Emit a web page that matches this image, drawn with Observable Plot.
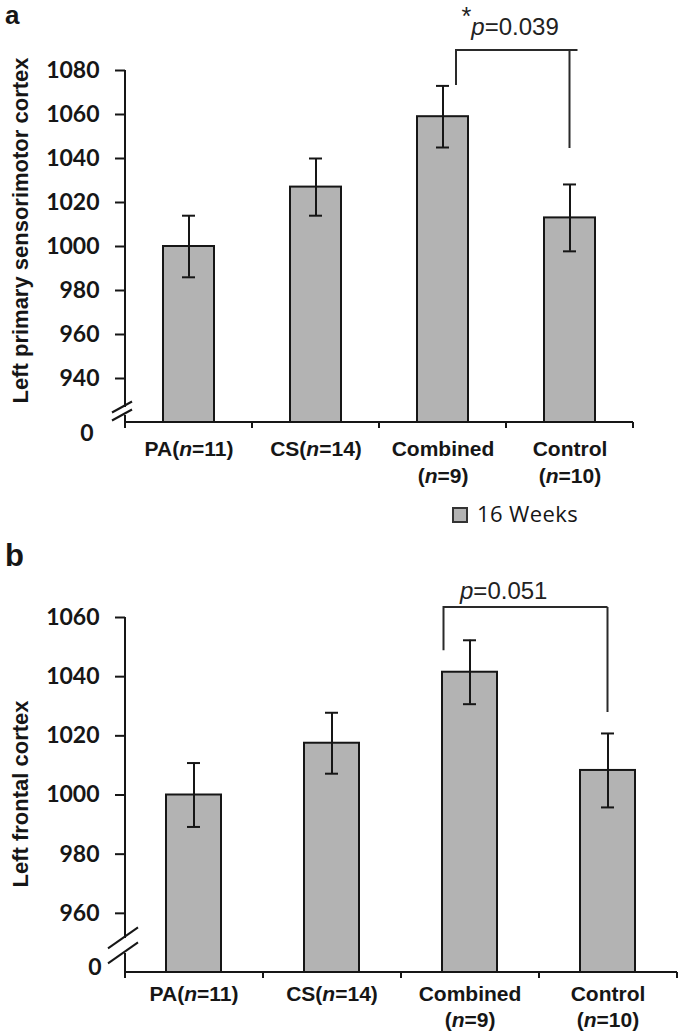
<!DOCTYPE html>
<html><head><meta charset="utf-8">
<script src="https://cdn.jsdelivr.net/npm/d3@7"></script>
<script src="https://cdn.jsdelivr.net/npm/@observablehq/plot@0.6"></script>
<style>
body{margin:0;background:#fff;}
#wrap{position:relative;width:679px;height:1034px;overflow:hidden;background:#fff;}
#wrap > svg{position:absolute;left:0;}
</style></head><body><div id="wrap"></div>
<script>
// ---- data ----
const groups = ["PA(n=11)", "CS(n=14)", "Combined\n(n=9)", "Control\n(n=10)"];
const sensorimotorMean = [1000, 1027, 1059, 1013];
const sensorimotorErr = [14, 13, 14, 15.2];
const frontalMean = [1000, 1017.5, 1041.5, 1008.3];
const frontalErr = [10.8, 10.3, 10.8, 12.5];
const sensorimotorTicks = [940, 960, 980, 1000, 1020, 1040, 1060, 1080];
const frontalTicks = [960, 980, 1000, 1020, 1040, 1060];
const sensorimotorBase = 920;   // bottom of broken axis, labelled "0"
const frontalBase = 940;
const sensorimotorBreak = 925;
const frontalBreak = 949;
const sensorimotorTitle = "Left primary sensorimotor cortex";
const frontalTitle = "Left frontal cortex";
// significance brackets: [from group, to group], [top, from-leg end, to-leg end, label y], label
const sensorimotorBracketGroups = ["Combined\n(n=9)", "Control\n(n=10)"];
const sensorimotorBracketY = [1089.1, 1073.2, 1044.5, 1099.4];
const sensorimotorBracketLabel = "*p=0.039";
const frontalBracketGroups = ["Combined\n(n=9)", "Control\n(n=10)"];
const frontalBracketY = [1063.4, 1048.8, 1027.9, 1069];
const frontalBracketLabel = "p=0.051";
const legendLabel = "16 Weeks";
const panelLetters = ["a", "b"];

const FILL = "#b3b3b3", INK = "#161616";

function decor(cfg) {
  return (index, scales, values, dim) => {
    const x = scales.x, y = scales.y;
    const g = d3.create("svg:g").attr("fill", "none").attr("stroke", INK).attr("stroke-width", 2);
    const left = dim.marginLeft, right = dim.width - dim.marginRight;
    const y0 = y(cfg.base), yTop = y(cfg.top), yb = y(cfg.breakAt);
    const h = cfg.gap / 2;
    // y axis line with break
    g.append("line").attr("x1", left).attr("x2", left).attr("y1", yTop).attr("y2", yb - h);
    g.append("line").attr("x1", left).attr("x2", left).attr("y1", yb + h).attr("y2", y0 + 4);
    for (const o of [-h, h]) {
      g.append("line")
        .attr("x1", left - cfg.sl).attr("y1", yb + o + cfg.sh / 2)
        .attr("x2", left + cfg.sr).attr("y2", yb + o - cfg.sh / 2);
    }
    // baseline
    g.append("line").attr("x1", left).attr("x2", right).attr("y1", y0).attr("y2", y0);
    // category boundary ticks
    const n = x.domain().length;
    for (let i = 0; i <= n; i++) {
      const xx = left + i * (right - left) / n;
      g.append("line").attr("x1", xx).attr("x2", xx).attr("y1", y0).attr("y2", y0 + 6);
    }
    // significance bracket
    const cx = c => x(c) + x.bandwidth() / 2;
    const xa = cx(cfg.bg[0]) + cfg.fromDx, xb = cx(cfg.bg[1]);
    const [top, fEnd, tEnd] = cfg.by;
    g.append("path").attr("stroke", "#2a2a2a")
      .attr("d", `M${xa},${y(fEnd)}V${y(top)}H${xb + cfg.over}M${xb},${y(top)}V${y(tEnd)}`);
    return g.node();
  };
}

function italicize(svg) {
  d3.select(svg).selectAll("text, tspan").each(function () {
    if (this.children.length) return;
    const s = this.textContent;
    const m = s.match(/^(.*?)(\*?)([np])(=.*)$/);
    if (!m) return;
    const el = d3.select(this);
    el.text("");
    if (m[1]) el.append("tspan").text(m[1]);
    if (m[2]) {
      el.append("tspan").attr("dy", "-0.42em").attr("font-size", "1.05em").text(m[2]);
      el.append("tspan").attr("dy", "0.42em").attr("font-style", "italic").text(m[3]);
    } else {
      el.append("tspan").attr("font-style", "italic").text(m[3]);
    }
    el.append("tspan").text(m[4]);
  });
}

function panel(o) {
  const data = groups.map((g, i) => ({g, v: o.mean[i], e: o.err[i]}));
  const lbl = {fontFamily: "Liberation Sans, Arial, sans-serif", fontWeight: 700};
  const svg = Plot.plot({
    width: 679, height: o.height,
    marginTop: o.mt, marginBottom: o.mb, marginLeft: 125, marginRight: o.mr,
    x: {domain: groups, paddingInner: 0.6, paddingOuter: 0.3, axis: null},
    y: {domain: [o.base, o.top], axis: null},
    style: {background: "transparent", color: INK, overflow: "visible"},
    marks: [
      Plot.barY(data, {x: "g", y1: o.base, y2: "v", fill: FILL, stroke: INK, strokeWidth: 2}),
      Plot.ruleX(data, {x: "g", y1: d => d.v - d.e, y2: d => d.v + d.e, stroke: INK, strokeWidth: 2}),
      Plot.tickY(data, {x: "g", y: d => d.v + d.e, stroke: INK, strokeWidth: 2, inset: o.capInset}),
      Plot.tickY(data, {x: "g", y: d => d.v - d.e, stroke: INK, strokeWidth: 2, inset: o.capInset}),
      Plot.axisY({ticks: o.ticks, tickSize: 10, tickPadding: 16, tickFormat: d => String(d), label: null,
        fontSize: 23, fontFamily: "Lato, sans-serif", fontWeight: 700, strokeWidth: 2}),
      Plot.axisY({ticks: [o.base], tickSize: 0, tickPadding: o.zeroPad, dy: o.zeroDy, tickFormat: () => "0",
        label: null, fontSize: 23, fontFamily: "Lato, sans-serif", fontWeight: 700}),
      Plot.text(groups, {x: d => d, y: o.base, text: d => d, lineAnchor: "top", dy: o.labelDy,
        lineHeight: o.lh, fontSize: 21, ...lbl, fill: INK}),
      Plot.text([o.title], {frameAnchor: "left", textAnchor: "middle", rotate: -90, dx: -105, dy: o.titleDy,
        fontSize: 22, ...lbl, fill: INK}),
      decor({base: o.base, top: o.top, breakAt: o.breakAt, gap: o.gap, sl: o.sl, sr: o.sr, sh: o.sh,
        bg: o.bg, by: o.by, fromDx: o.fromDx, over: o.over}),
      Plot.text([o.blabel], {x: () => o.bg[0], y: o.by[3], text: d => d, textAnchor: "start", dx: o.textDx,
        fontSize: 24, fontFamily: "Liberation Sans, Arial, sans-serif", fill: "#222"})
    ]
  });
  italicize(svg);
  return svg;
}

const wrap = document.getElementById("wrap");

const a = panel({
  mean: sensorimotorMean, err: sensorimotorErr, ticks: sensorimotorTicks, base: sensorimotorBase, top: 1080,
  height: 500, mt: 70, mb: 78, mr: 46, capInset: 19, zeroPad: 32, zeroDy: 11, labelDy: 14, lh: 1.29,
  title: sensorimotorTitle, titleDy: -16, breakAt: sensorimotorBreak, gap: 8, sl: 13, sr: 7, sh: 11,
  bg: sensorimotorBracketGroups, by: sensorimotorBracketY, fromDx: 13.5, over: 8,
  blabel: sensorimotorBracketLabel, textDx: 18.5
});
a.style.top = "0px";
wrap.appendChild(a);

const b = panel({
  mean: frontalMean, err: frontalErr, ticks: frontalTicks, base: frontalBase, top: 1060,
  height: 514, mt: 97, mb: 62, mr: 2, capInset: 21, zeroPad: 24, zeroDy: -5, labelDy: 10, lh: 1.24,
  title: frontalTitle, titleDy: -1, breakAt: frontalBreak, gap: 15, sl: 17, sr: 13, sh: 21,
  bg: frontalBracketGroups, by: frontalBracketY, fromDx: -26, over: 0,
  blabel: frontalBracketLabel, textDx: -10
});
b.style.top = "520px";
wrap.appendChild(b);

// overlay: panel letters and legend
const ov = d3.select(wrap).append("svg").attr("width", 679).attr("height", 1034)
  .style("top", "0px").style("pointer-events", "none");
ov.append("text").attr("x", 5).attr("y", 24).attr("font-family", "Liberation Sans, Arial, sans-serif")
  .attr("font-weight", 700).attr("font-size", 26).attr("fill", INK).text(panelLetters[0]);
ov.append("text").attr("x", 5).attr("y", 566).attr("font-family", "Liberation Sans, Arial, sans-serif")
  .attr("font-weight", 700).attr("font-size", 31).attr("fill", INK).text(panelLetters[1]);
ov.append("rect").attr("x", 453).attr("y", 508).attr("width", 14).attr("height", 14)
  .attr("fill", FILL).attr("stroke", "#333").attr("stroke-width", 2);
ov.append("text").attr("x", 477).attr("y", 522).attr("font-family", "Open Sans, sans-serif")
  .attr("font-size", 22).attr("letter-spacing", "0.4").attr("fill", INK).text(legendLabel);
</script>
</body></html>
